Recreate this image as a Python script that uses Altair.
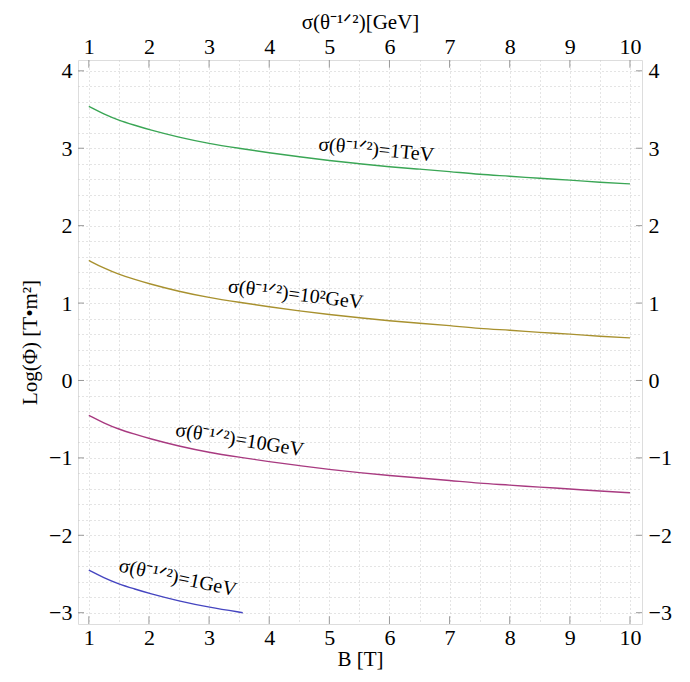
import altair as alt
import pandas as pd

# ---- data ----
B_full = [1, 1.25, 1.5, 1.75, 2, 2.5, 3, 3.5, 4, 4.5, 5, 5.5, 6, 6.5, 7, 7.5, 8, 8.5, 9, 9.5, 10]
tev = [3.54, 3.44, 3.36, 3.30, 3.24, 3.14, 3.06, 3.00, 2.94, 2.89, 2.84, 2.80, 2.76, 2.73, 2.70, 2.66, 2.64, 2.61, 2.59, 2.56, 2.54]
gev100 = [1.55, 1.45, 1.37, 1.31, 1.25, 1.15, 1.07, 1.01, 0.95, 0.90, 0.85, 0.81, 0.77, 0.74, 0.71, 0.67, 0.65, 0.62, 0.60, 0.57, 0.55]
gev10 = [-0.45, -0.55, -0.63, -0.69, -0.75, -0.85, -0.93, -0.99, -1.05, -1.10, -1.15, -1.19, -1.23, -1.26, -1.29, -1.33, -1.35, -1.38, -1.40, -1.43, -1.45]
B_short = [1, 1.25, 1.5, 1.75, 2, 2.5, 3, 3.56]
gev1 = [-2.45, -2.55, -2.63, -2.69, -2.75, -2.85, -2.93, -3.00]

series_names = ["1TeV", "100GeV", "10GeV", "1GeV"]
series_colors = ["#3aa655", "#a8912f", "#a83a80", "#4545c0"]

label_texts = ["σ(θ⁻¹ᐟ²)=1TeV", "σ(θ⁻¹ᐟ²)=10²GeV", "σ(θ⁻¹ᐟ²)=10GeV", "σ(θ⁻¹ᐟ²)=1GeV"]
label_x = [5.78, 4.44, 3.51, 2.48]
label_y = [2.98, 1.11, -0.77, -2.55]
label_angle = [5.5, 7, 9, 12]

x_ticks = list(range(1, 11))
y_ticks = list(range(-3, 5))
x_grid = [round(1 + 0.5 * i, 2) for i in range(19)]
y_grid = [round(-3 + 0.2 * i, 2) for i in range(36)]

XMIN, XMAX = 0.82, 10.2
YMIN, YMAX = -3.146, 4.14
TL_X, TL_Y = 0.1, 0.1

rows = []
for name, ys in zip(series_names[:3], [tev, gev100, gev10]):
    for b, v in zip(B_full, ys):
        rows.append({"B": b, "v": v, "s": name})
for b, v in zip(B_short, gev1):
    rows.append({"B": b, "v": v, "s": "1GeV"})
df = pd.DataFrame(rows)

labels = pd.DataFrame({"t": label_texts, "x": label_x, "y": label_y, "a": label_angle})

FONT = "Liberation Serif"
xs = alt.Scale(domain=[XMIN, XMAX], nice=False, zero=False)
ys_ = alt.Scale(domain=[YMIN, YMAX], nice=False, zero=False)

lab_expr = "abs(datum.value - round(datum.value)) < 1e-6 ? replace(format(datum.value, 'd'), '-', '\u2212') : ''"

common_axis = dict(
    labelFont=FONT, labelFontSize=22, labelColor="black", titleFont=FONT,
    titleFontSize=21, titleColor="black", titleFontWeight="normal",
    tickSize=0, domain=False, labelExpr=lab_expr,
)

grid_kw = dict(grid=True, gridColor="#c8c8c8", gridDash=[1, 3], gridWidth=1)

base_lines = alt.Chart(df).mark_line(strokeWidth=1.4, clip=True, interpolate="basis").encode(
    x=alt.X("B:Q", scale=xs, axis=alt.Axis(orient="bottom", title="B [T]", values=x_grid, labelPadding=3, titlePadding=0, **grid_kw, **common_axis)),
    y=alt.Y("v:Q", scale=ys_, axis=alt.Axis(orient="left", title="Log(Φ) [T•m²]", values=y_grid, labelPadding=6, titlePadding=8, **grid_kw, **common_axis)),
    color=alt.Color("s:N", scale=alt.Scale(domain=series_names, range=series_colors), legend=None),
    detail="s:N",
)

top_right = alt.Chart(pd.DataFrame({"B": [XMIN], "v": [YMIN]})).mark_point(opacity=0).encode(
    x=alt.X("B:Q", scale=xs, axis=alt.Axis(orient="top", title="σ(θ⁻¹ᐟ²)[GeV]", values=x_ticks, grid=False, labelPadding=2, titlePadding=3, **common_axis)),
    y=alt.Y("v:Q", scale=ys_, axis=alt.Axis(orient="right", title=None, values=y_ticks, grid=False, labelPadding=6, **common_axis)),
)

tick_color = "#999999"
xb_df = pd.DataFrame({"x": x_ticks, "y0": [YMIN] * 10, "y1": [YMIN + TL_Y] * 10})
xt_df = pd.DataFrame({"x": x_ticks, "y0": [YMAX] * 10, "y1": [YMAX - TL_Y] * 10})
yl_df = pd.DataFrame({"y": y_ticks, "x0": [XMIN] * 8, "x1": [XMIN + TL_X] * 8})
yr_df = pd.DataFrame({"y": y_ticks, "x0": [XMAX] * 8, "x1": [XMAX - TL_X] * 8})


def hticks(d):
    return alt.Chart(d).mark_rule(color=tick_color, strokeWidth=1).encode(
        x=alt.X("x:Q", scale=xs, axis=None),
        y=alt.Y("y0:Q", scale=ys_, axis=None), y2="y1:Q")


def vticks(d):
    return alt.Chart(d).mark_rule(color=tick_color, strokeWidth=1).encode(
        y=alt.Y("y:Q", scale=ys_, axis=None),
        x=alt.X("x0:Q", scale=xs, axis=None), x2="x1:Q")


text = alt.Chart(labels).mark_text(font=FONT, fontSize=20, color="black").encode(
    x=alt.X("x:Q", scale=xs, axis=None), y=alt.Y("y:Q", scale=ys_, axis=None), text="t:N",
    angle=alt.Angle("a:Q", scale=None),
)

chart = alt.layer(base_lines, top_right, hticks(xb_df), hticks(xt_df), vticks(yl_df), vticks(yr_df), text).resolve_axis(
    x="independent", y="independent"
).properties(
    width=564, height=564,
    autosize=alt.AutoSizeParams(type="none"),
    padding={"left": 70, "top": 52, "right": 40, "bottom": 50},
).configure_view(stroke="#999999", strokeWidth=1.2).configure(background="white")

chart.save("out.html", embed_options={"renderer": "svg", "actions": False})
